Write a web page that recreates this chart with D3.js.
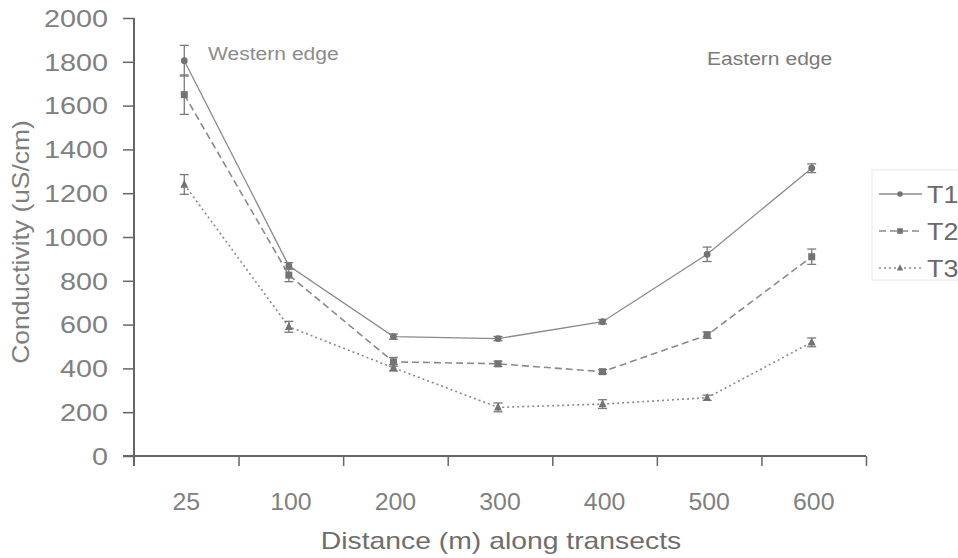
<!DOCTYPE html>
<html>
<head>
<meta charset="utf-8">
<script src="https://cdn.jsdelivr.net/npm/d3@7"></script>
<style>
  html, body { margin: 0; padding: 0; background: #fff; }
  svg { display: block; font-family: "Liberation Sans", Arial, sans-serif; }
</style>
</head>
<body>
<svg id="chart" width="958" height="558"></svg>
<script>
// Distance classes along the transects (m)
const distances = ["25", "100", "200", "300", "400", "500", "600"];

// Mean conductivity (uS/cm) and standard errors per transect
const t1Values = [1805, 868, 545, 536, 613, 921, 1314];
const t1Errors = [70, 15, 12, 10, 10, 33, 20];
const t2Values = [1650, 826, 430, 421, 385, 552, 910];
const t2Errors = [90, 30, 20, 12, 10, 15, 35];
const t3Values = [1240, 590, 403, 222, 237, 266, 519];
const t3Errors = [45, 25, 15, 20, 20, 12, 20];

const seriesNames = ["T1", "T2", "T3"];
const yTicks = [0, 200, 400, 600, 800, 1000, 1200, 1400, 1600, 1800, 2000];

const series = [
  { name: "T1", values: t1Values, errors: t1Errors, marker: "circle",   dash: null,  width: 1.3 },
  { name: "T2", values: t2Values, errors: t2Errors, marker: "square",   dash: "7,4", width: 1.6 },
  { name: "T3", values: t3Values, errors: t3Errors, marker: "triangle", dash: "2,3", width: 1.6 }
];

const svg = d3.select("#chart");
const textColor = "#808080";
const axisColor = "#666";
const lineColor = "#8a8a8a";
const markColor = "#737373";

const plotLeft = 134, plotRight = 866, plotTop = 18, plotBottom = 456;

const x = d3.scaleBand().domain(distances).range([plotLeft, plotRight]).padding(0);
const xEdges = d3.scaleLinear().domain([0, distances.length]).range([plotLeft, plotRight]);
const y = d3.scaleLinear().domain([0, 2000]).range([plotBottom, plotTop]);

// Widen glyphs horizontally, like the printed figure
function widen(sel, k) {
  sel.each(function () {
    const w = this.getComputedTextLength();
    d3.select(this).attr("textLength", w * k).attr("lengthAdjust", "spacingAndGlyphs");
  });
}

// Y axis
const yAxis = svg.append("g")
  .attr("transform", `translate(${plotLeft},0)`)
  .call(d3.axisLeft(y).tickValues(yTicks).tickSize(11).tickPadding(15).tickFormat(d3.format("d")));
yAxis.select(".domain").attr("stroke", axisColor).attr("stroke-width", 2).attr("d", `M0,${plotTop}V${plotBottom + 10}`);
yAxis.selectAll(".tick line").attr("stroke", axisColor).attr("stroke-width", 1.5);
yAxis.selectAll(".tick text")
  .attr("fill", textColor).style("font-size", "23px").attr("dy", "0.36em");
widen(yAxis.selectAll(".tick text"), 1.25);

// X axis: boundary ticks between distance classes
const xTickAxis = svg.append("g")
  .attr("transform", `translate(0,${plotBottom})`)
  .call(d3.axisBottom(xEdges).tickValues(d3.range(1, distances.length + 1)).tickSize(10).tickFormat(""));
xTickAxis.select(".domain").attr("stroke", axisColor).attr("stroke-width", 2).attr("d", `M${plotLeft - 11},0H${plotRight}`);
xTickAxis.selectAll(".tick line").attr("stroke", axisColor).attr("stroke-width", 1.5);

// X axis category labels centred in each class
const xLabelAxis = svg.append("g")
  .attr("transform", `translate(0,${plotBottom})`)
  .call(d3.axisBottom(x).tickSize(0).tickPadding(46));
xLabelAxis.select(".domain").remove();
xLabelAxis.selectAll(".tick text")
  .attr("fill", textColor).style("font-size", "23px").attr("dy", "0.35em");
widen(xLabelAxis.selectAll(".tick text"), 1.08);

// Axis titles
const xTitle = svg.append("text")
  .attr("x", 501).attr("y", 549)
  .attr("text-anchor", "middle")
  .attr("fill", "#6e6e6e").style("font-size", "24px")
  .text("Distance (m) along transects");
widen(xTitle, 1.18);

const yTitle = svg.append("text")
  .attr("transform", "translate(29,242) rotate(-90)")
  .attr("text-anchor", "middle")
  .attr("fill", "#7e7e7e").style("font-size", "24px")
  .text("Conductivity (uS/cm)");
widen(yTitle, 1.1);

// Edge annotations
const west = svg.append("text")
  .attr("x", 208).attr("y", 60)
  .attr("fill", "#8c8c8c").style("font-size", "18px")
  .text("Western edge");
widen(west, 1.17);
const east = svg.append("text")
  .attr("x", 707).attr("y", 65)
  .attr("fill", "#7a7a7a").style("font-size", "18px")
  .text("Eastern edge");
widen(east, 1.17);

// Marker drawing
function drawMarker(g, type, cx, cy, s) {
  if (type === "circle") {
    g.append("circle").attr("cx", cx).attr("cy", cy).attr("r", 3.4 * s).attr("fill", markColor);
  } else if (type === "square") {
    g.append("rect").attr("x", cx - 3.5 * s).attr("y", cy - 3.5 * s)
      .attr("width", 7 * s).attr("height", 7 * s).attr("fill", markColor);
  } else {
    const h = 8 * s;
    g.append("path")
      .attr("d", `M${cx},${cy - h * 0.6}L${cx + h * 0.5},${cy + h * 0.4}L${cx - h * 0.5},${cy + h * 0.4}Z`)
      .attr("fill", markColor);
  }
}

const cx = d => x(d) + x.bandwidth() / 2 - 2;

series.forEach(s => {
  const g = svg.append("g");
  const pts = distances.map((d, i) => ({ d, v: s.values[i], e: s.errors[i] }));
  g.append("path")
    .datum(pts)
    .attr("fill", "none")
    .attr("stroke", lineColor)
    .attr("stroke-width", s.width)
    .attr("stroke-dasharray", s.dash)
    .attr("d", d3.line().x(p => cx(p.d)).y(p => y(p.v)));
  pts.forEach(p => {
    const px = cx(p.d);
    const eb = g.append("g").attr("stroke", "#7a7a7a").attr("stroke-width", 1.3);
    eb.append("line").attr("x1", px).attr("x2", px).attr("y1", y(p.v - p.e)).attr("y2", y(p.v + p.e));
    eb.append("line").attr("x1", px - 4.5).attr("x2", px + 4.5).attr("y1", y(p.v + p.e)).attr("y2", y(p.v + p.e));
    eb.append("line").attr("x1", px - 4.5).attr("x2", px + 4.5).attr("y1", y(p.v - p.e)).attr("y2", y(p.v - p.e));
    drawMarker(g, s.marker, px, y(p.v), 1);
  });
});

// Legend
const legend = svg.append("g");
legend.append("rect")
  .attr("x", 872).attr("y", 170).attr("width", 100).attr("height", 110)
  .attr("fill", "none").attr("stroke", "#f0f0f0").attr("stroke-width", 1.5);
const legendY = d3.scalePoint().domain(seriesNames).range([194, 268]);
series.forEach(s => {
  const ly = legendY(s.name);
  legend.append("line")
    .attr("x1", 879).attr("x2", 922).attr("y1", ly).attr("y2", ly)
    .attr("stroke", lineColor).attr("stroke-width", 1.3)
    .attr("stroke-dasharray", s.dash);
  drawMarker(legend, s.marker, 900, ly, 0.8);
  const t = legend.append("text")
    .attr("x", 927).attr("y", ly).attr("dy", "0.36em")
    .attr("fill", "#6a6a6a").style("font-size", "24px")
    .text(s.name);
  widen(t, 1.12);
});
</script>
</body>
</html>
